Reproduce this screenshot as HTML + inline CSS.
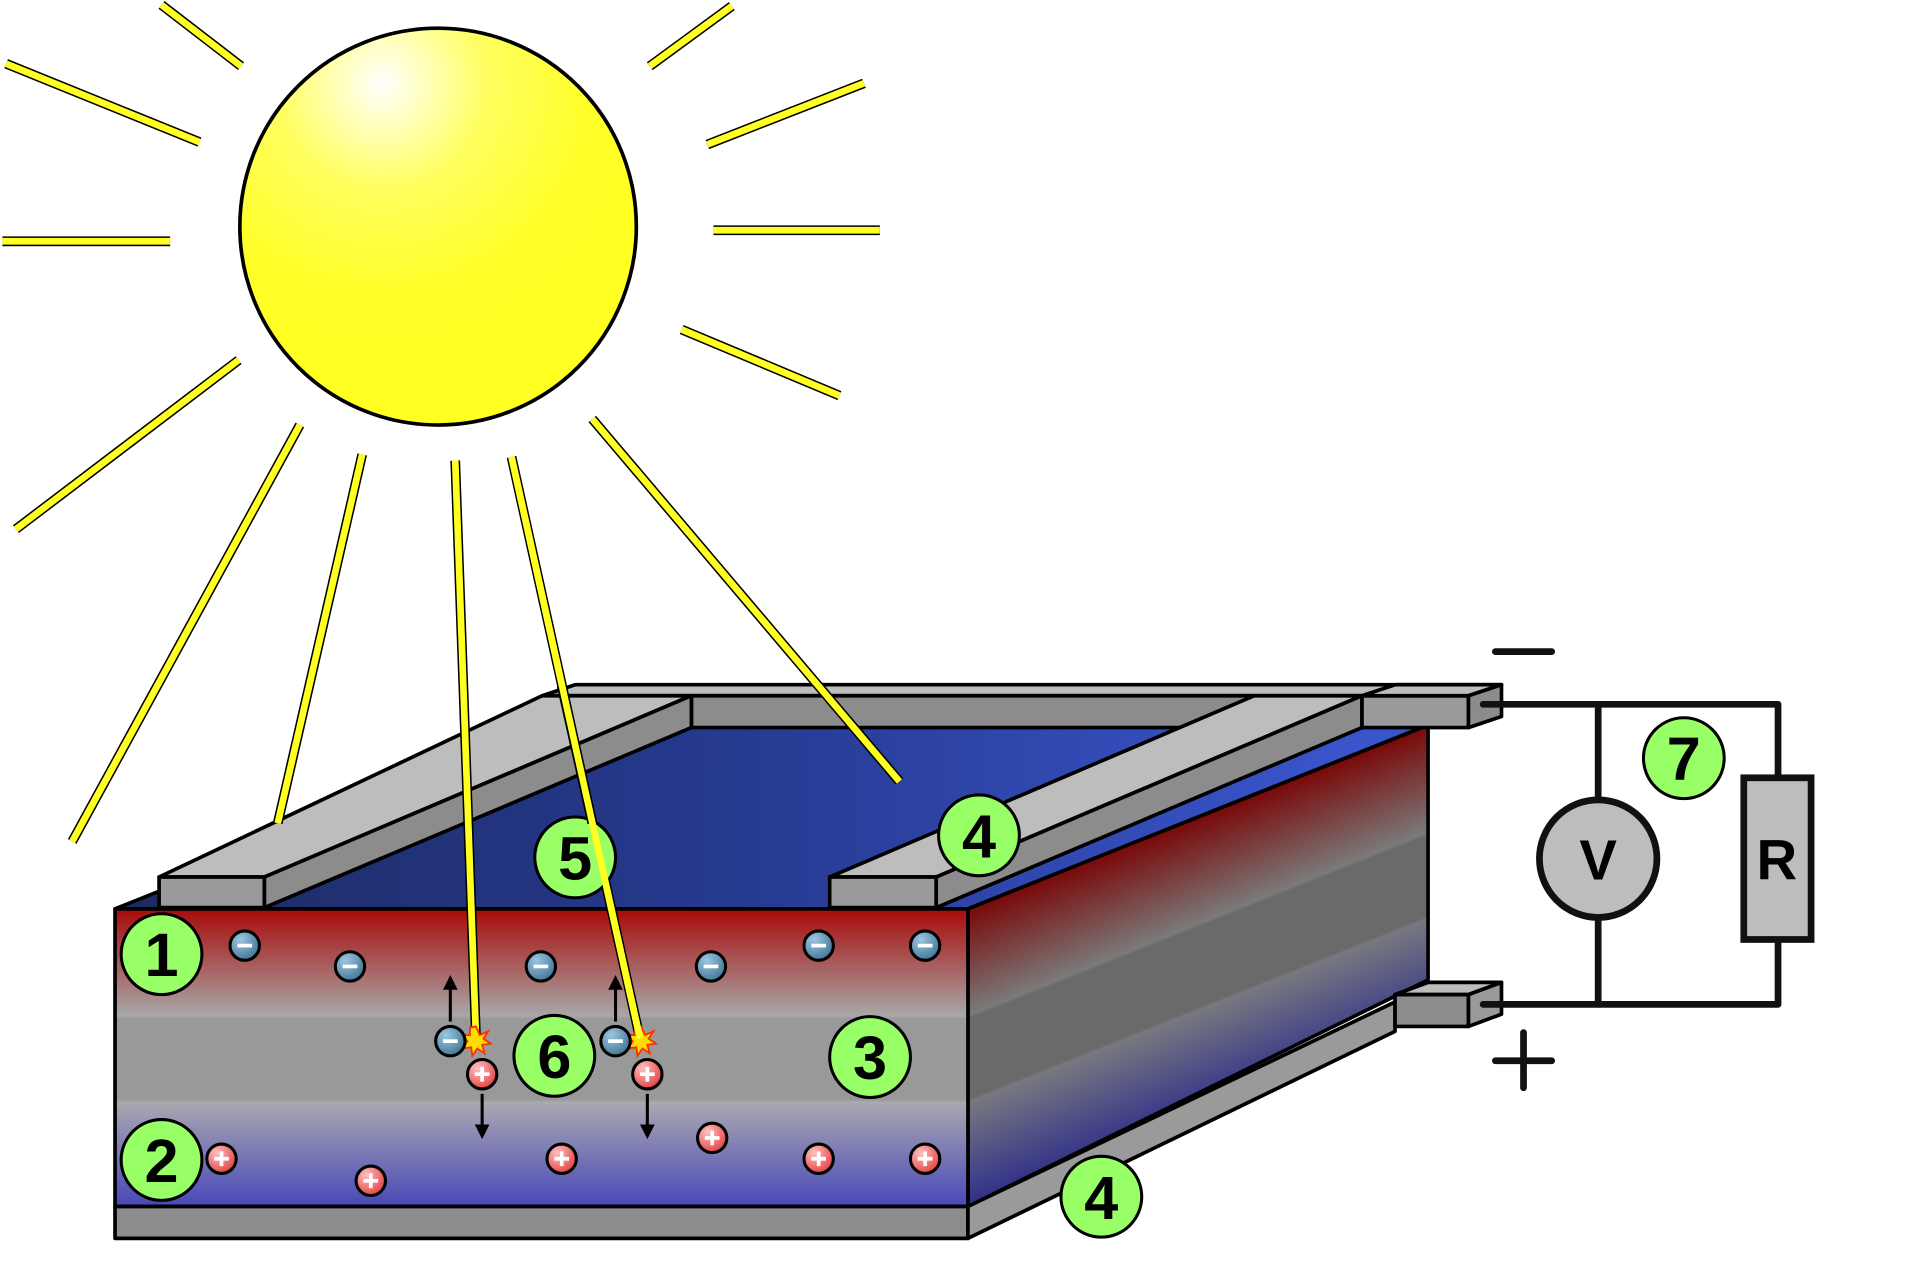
<!DOCTYPE html>
<html><head><style>html,body{margin:0;padding:0;background:#fff}svg{display:block}</style></head>
<body>
<svg width="1920" height="1280" viewBox="0 0 1569 1045" preserveAspectRatio="none" xmlns="http://www.w3.org/2000/svg" font-family="Liberation Sans, sans-serif">
<defs>
<radialGradient id="sun" cx="0.36" cy="0.14" r="0.75">
<stop offset="0" stop-color="#ffffff"/><stop offset="0.35" stop-color="#ffff60"/><stop offset="0.7" stop-color="#ffff2a"/><stop offset="1" stop-color="#ffff22"/></radialGradient>
<linearGradient id="front" x1="0" y1="742" x2="0" y2="985" gradientUnits="userSpaceOnUse">
<stop offset="0" stop-color="#a80a0a"/><stop offset="0.36" stop-color="#a8a8a8"/><stop offset="0.37" stop-color="#999"/><stop offset="0.64" stop-color="#999"/><stop offset="0.65" stop-color="#aaa8b0"/><stop offset="1" stop-color="#4848b8"/></linearGradient>
<linearGradient id="side" x1="0" y1="742" x2="0" y2="985" gradientUnits="userSpaceOnUse" gradientTransform="translate(791,0) skewY(-21.75) translate(-791,0)">
<stop offset="0" stop-color="#7a0808"/><stop offset="0.36" stop-color="#7a7a7a"/><stop offset="0.37" stop-color="#6a6a6a"/><stop offset="0.64" stop-color="#6a6a6a"/><stop offset="0.65" stop-color="#787880"/><stop offset="1" stop-color="#30308a"/></linearGradient>
<linearGradient id="top" x1="94" y1="0" x2="1100" y2="0" gradientUnits="userSpaceOnUse">
<stop offset="0" stop-color="#1c2a60"/><stop offset="0.5" stop-color="#263a90"/><stop offset="1" stop-color="#3a55cc"/></linearGradient>
<radialGradient id="el" cx="0.35" cy="0.3" r="0.8"><stop offset="0" stop-color="#9cc6e0"/><stop offset="1" stop-color="#3a7090"/></radialGradient>
<radialGradient id="ho" cx="0.35" cy="0.3" r="0.8"><stop offset="0" stop-color="#ffc0c0"/><stop offset="1" stop-color="#e03838"/></radialGradient>
</defs>
<g stroke="#000" stroke-width="3" stroke-linejoin="round">
<polygon points="94,742 791,742 1167,592 470,592" fill="url(#top)"/>
<polygon points="791,742 1167,592 1167,800 791,985" fill="url(#side)"/>
<rect x="94" y="742" width="697" height="243" fill="url(#front)"/>
<rect x="94" y="985" width="697" height="26" fill="#8c8c8c"/>
<polygon points="791,985 1140,818 1140,842 791,1011" fill="#9a9a9a"/>
<polygon points="1140,812 1167,802 1227,802 1200,812" fill="#bdbdbd"/>
<rect x="1140" y="812" width="60" height="26" fill="#8c8c8c"/>
<polygon points="1200,812 1227,802 1227,828 1200,838" fill="#9a9a9a"/>
<polygon points="443,568 470,559 1227,559 1200,568" fill="#bdbdbd"/>
<polygon points="565,568 1025,568 1000,594 565,594" fill="#8c8c8c"/>
<polygon points="130,716 443,568 565,568 216,716" fill="#bdbdbd"/>
<polygon points="216,716 565,568 565,594 216,741" fill="#8c8c8c"/>
<rect x="130" y="716" width="86" height="25" fill="#9a9a9a"/>
<polygon points="678,716 1025,568 1113,568 765,716" fill="#bdbdbd"/>
<polygon points="765,716 1113,568 1113,594 765,741" fill="#8c8c8c"/>
<rect x="678" y="716" width="87" height="25" fill="#9a9a9a"/>
<rect x="1113" y="568" width="87" height="26" fill="#9a9a9a"/>
<polygon points="1113,568 1140,559 1227,559 1200,568" fill="#bdbdbd"/>
<polygon points="1200,568 1227,559 1227,585 1200,594" fill="#8c8c8c"/>
</g>
<g stroke="#111" stroke-width="5.5" fill="none" stroke-linecap="round" stroke-linejoin="round">
<polyline points="1212,575 1453,575 1453,635"/>
<polyline points="1453,767 1453,820 1212,820"/>
<line x1="1306" y1="575" x2="1306" y2="654"/>
<line x1="1306" y1="748" x2="1306" y2="820"/>
<line x1="1222" y1="532" x2="1268" y2="532"/>
<line x1="1222" y1="866" x2="1268" y2="866"/>
<line x1="1245" y1="843" x2="1245" y2="888"/>
</g>
<rect x="1425" y="635" width="55" height="132" fill="#bdbdbd" stroke="#111" stroke-width="5.5"/>
<circle cx="1306" cy="701" r="48" fill="#bdbdbd" stroke="#111" stroke-width="5.5"/>
<text x="1306" y="718" font-size="46" font-weight="bold" text-anchor="middle">V</text>
<text x="1452" y="718" font-size="46" font-weight="bold" text-anchor="middle">R</text>
<circle cx="358" cy="185" r="162" fill="url(#sun)" stroke="#000" stroke-width="3"/>
<g stroke-linecap="butt">
<g stroke="#000" stroke-width="8">
<line x1="132" y1="4" x2="197" y2="54"/><line x1="5" y1="52" x2="163" y2="116"/><line x1="2" y1="197" x2="139" y2="197"/><line x1="13" y1="432" x2="195" y2="294"/><line x1="59" y1="687" x2="245" y2="347"/><line x1="227" y1="672" x2="296" y2="371"/><line x1="372" y1="376" x2="389" y2="848"/><line x1="418" y1="373" x2="523" y2="848"/><line x1="484" y1="342" x2="735" y2="638"/><line x1="531" y1="54" x2="598" y2="5"/><line x1="578" y1="118" x2="706" y2="68"/><line x1="583" y1="188" x2="719" y2="188"/><line x1="557" y1="269" x2="686" y2="323"/>
</g>
<g stroke="#ffff22" stroke-width="5.5">
<line x1="132" y1="4" x2="197" y2="54"/><line x1="5" y1="52" x2="163" y2="116"/><line x1="2" y1="197" x2="139" y2="197"/><line x1="13" y1="432" x2="195" y2="294"/><line x1="59" y1="687" x2="245" y2="347"/><line x1="227" y1="672" x2="296" y2="371"/><line x1="372" y1="376" x2="389" y2="848"/><line x1="418" y1="373" x2="523" y2="848"/><line x1="484" y1="342" x2="735" y2="638"/><line x1="531" y1="54" x2="598" y2="5"/><line x1="578" y1="118" x2="706" y2="68"/><line x1="583" y1="188" x2="719" y2="188"/><line x1="557" y1="269" x2="686" y2="323"/>
</g></g>
<g stroke="#000" stroke-width="2.5">
<line x1="368" y1="834" x2="368" y2="806"/><line x1="503" y1="834" x2="503" y2="806"/><line x1="394" y1="893" x2="394" y2="920"/><line x1="529" y1="893" x2="529" y2="920"/></g>
<g fill="#000"><polygon points="362,808 374,808 368,796"/><polygon points="497,808 509,808 503,796"/><polygon points="388,918 400,918 394,930"/><polygon points="523,918 535,918 529,930"/></g>
<g fill="#ffdd00" stroke="#ff3000" stroke-width="1.5">
<polygon points="389,838 392,845 399,842 395,848 401,852 394,853 396,860 390,856 386,862 385,855 378,856 382,850 377,845 384,845 384,839"/>
<polygon points="524,838 527,845 534,842 530,848 536,852 529,853 531,860 525,856 521,862 520,855 513,856 517,850 512,845 519,845 519,839"/>
</g>
<g stroke="#000" stroke-width="2.5" fill="url(#el)">
<circle cx="200" cy="772" r="12"/><circle cx="286" cy="789" r="12"/><circle cx="442" cy="789" r="12"/><circle cx="581" cy="789" r="12"/><circle cx="669" cy="772" r="12"/><circle cx="756" cy="772" r="12"/><circle cx="368" cy="850" r="12"/><circle cx="503" cy="850" r="12"/></g>
<g stroke="#fff" stroke-width="3">
<line x1="194" y1="772" x2="206" y2="772"/><line x1="280" y1="789" x2="292" y2="789"/><line x1="436" y1="789" x2="448" y2="789"/><line x1="575" y1="789" x2="587" y2="789"/><line x1="663" y1="772" x2="675" y2="772"/><line x1="750" y1="772" x2="762" y2="772"/><line x1="362" y1="850" x2="374" y2="850"/><line x1="497" y1="850" x2="509" y2="850"/></g>
<g stroke="#000" stroke-width="2.5" fill="url(#ho)">
<circle cx="181" cy="946" r="12"/><circle cx="303" cy="964" r="12"/><circle cx="459" cy="946" r="12"/><circle cx="582" cy="929" r="12"/><circle cx="669" cy="946" r="12"/><circle cx="756" cy="946" r="12"/><circle cx="394" cy="877" r="12"/><circle cx="529" cy="877" r="12"/></g>
<g stroke="#fff" stroke-width="3">
<path d="M175 946h12M181 940v12M297 964h12M303 958v12M453 946h12M459 940v12M576 929h12M582 923v12M663 946h12M669 940v12M750 946h12M756 940v12M388 877h12M394 871v12M523 877h12M529 871v12"/></g>
<g fill="#99ff66" stroke="#000" stroke-width="2.5">
<circle cx="132" cy="779" r="33"/><circle cx="132" cy="947" r="33"/><circle cx="711" cy="863" r="33"/><circle cx="800" cy="682" r="33"/><circle cx="900" cy="977" r="33"/><circle cx="470" cy="700" r="33"/><circle cx="453" cy="862" r="33"/><circle cx="1376" cy="619" r="33"/></g>
<g font-size="50" font-weight="bold" text-anchor="middle" fill="#000">
<text x="132" y="797">1</text><text x="132" y="965">2</text><text x="711" y="881">3</text><text x="800" y="700">4</text><text x="900" y="995">4</text><text x="470" y="718">5</text><text x="453" y="880">6</text><text x="1376" y="637">7</text></g>
<line x1="459" y1="560" x2="484" y2="672" stroke="#000" stroke-width="8"/>
<line x1="418" y1="373" x2="523" y2="848" stroke="#ffff22" stroke-width="5.5"/>
</svg>
</body></html>
